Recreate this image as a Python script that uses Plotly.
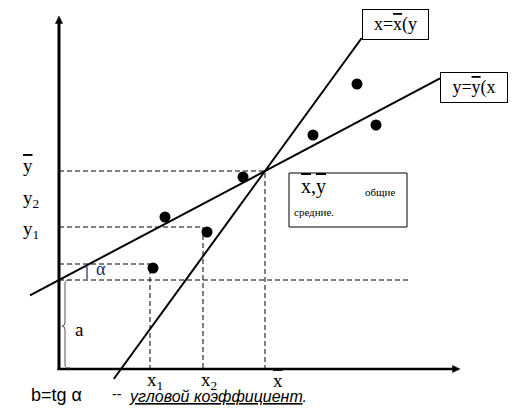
import plotly.graph_objects as go

# ---------------- data (chart units) ----------------
pts_x = [9.4, 10.6, 14.8, 18.4, 25.4, 29.8, 31.7]
pts_y = [10.1, 15.2, 13.7, 19.2, 23.4, 28.5, 24.4]

x_mean = 20.6          # x̄
y_mean = 19.8          # ȳ
a_intercept = 8.9      # a
slope_x_on_y = 1.375   # dy/dx of line x = x̄(y)

x1_val = 9.1
x2_val = 14.4
y1_val = 14.2
y2_val = 16.9
alpha_level = 10.5
a_line_end = 35.0

line_yx_x = [-2.9, 38.1]    # extent of y = ȳ(x)
line_xy_y = [-1.0, 33.1]    # extent of x = x̄(y)

x_axis_end = 40.1
y_axis_end = 35.3

tick_labels_x = ["x<sub>1</sub>", "x<sub>2</sub>"]
tick_labels_y = ["y<sub>1</sub>", "y<sub>2</sub>"]

# ---------------- helpers ----------------
W, H = 515, 415
OX, OY, S = 59, 369, 10.0
XR = [(0 - OX) / S, (W - OX) / S]
YR = [(OY - H) / S, (OY - 0) / S]


def P(px, py):
    return (px - OX) / S, (OY - py) / S


b_slope = (y_mean - a_intercept) / x_mean
OVER = '<span style="text-decoration:overline">{}</span>'

fig = go.Figure()

dash_style = dict(color="black", width=1, dash="5px,3px")

# dashed guide lines
fig.add_trace(go.Scatter(x=[0, x_mean, x_mean], y=[y_mean, y_mean, 0],
                         mode="lines", line=dash_style, hoverinfo="skip"))
fig.add_trace(go.Scatter(x=[0, x2_val, x2_val], y=[y1_val, y1_val, 0],
                         mode="lines", line=dash_style, hoverinfo="skip"))
fig.add_trace(go.Scatter(x=[0, x1_val, x1_val], y=[alpha_level, alpha_level, 0],
                         mode="lines", line=dash_style, hoverinfo="skip"))
fig.add_trace(go.Scatter(x=[0, a_line_end], y=[a_intercept, a_intercept],
                         mode="lines", line=dash_style, hoverinfo="skip"))

# regression line y = ȳ(x)
fig.add_trace(go.Scatter(x=line_yx_x,
                         y=[a_intercept + b_slope * v for v in line_yx_x],
                         mode="lines", line=dict(color="black", width=2),
                         hoverinfo="skip"))
# regression line x = x̄(y)
fig.add_trace(go.Scatter(x=[x_mean + (v - y_mean) / slope_x_on_y for v in line_xy_y],
                         y=line_xy_y,
                         mode="lines", line=dict(color="black", width=2),
                         hoverinfo="skip"))

# points
fig.add_trace(go.Scatter(x=pts_x, y=pts_y, mode="markers",
                         marker=dict(color="black", size=11), hoverinfo="skip"))

shapes = []
# axes
shapes.append(dict(type="line", xref="x", yref="y", x0=0, y0=-0.1, x1=0, y1=y_axis_end - 0.5,
                   line=dict(color="black", width=3)))
shapes.append(dict(type="line", xref="x", yref="y", x0=-0.15, y0=0, x1=x_axis_end - 0.5, y1=0,
                   line=dict(color="black", width=2.5)))
shapes.append(dict(type="path", xref="x", yref="y",
                   path=f"M {0} {y_axis_end} L {-0.36} {y_axis_end - 0.75} L {0.36} {y_axis_end - 0.75} Z",
                   fillcolor="black", line=dict(color="black", width=0.5)))
shapes.append(dict(type="path", xref="x", yref="y",
                   path=f"M {x_axis_end} {0} L {x_axis_end - 0.75} {0.36} L {x_axis_end - 0.75} {-0.36} Z",
                   fillcolor="black", line=dict(color="black", width=0.5)))

# brace for "a"
path_pts = [P(70, 280), P(65, 283), P(65, 322), P(62, 326), P(65, 330), P(65, 365), P(70, 368)]
bp = f"M {path_pts[0][0]} {path_pts[0][1]} Q {P(65,280)[0]} {P(65,280)[1]} {path_pts[1][0]} {path_pts[1][1]} " \
     f"L {path_pts[2][0]} {path_pts[2][1]} Q {P(65,326)[0]} {P(65,326)[1]} {path_pts[3][0]} {path_pts[3][1]} " \
     f"Q {P(65,326)[0]} {P(65,326)[1]} {path_pts[4][0]} {path_pts[4][1]} " \
     f"L {path_pts[5][0]} {path_pts[5][1]} Q {P(65,368)[0]} {P(65,368)[1]} {path_pts[6][0]} {path_pts[6][1]}"
shapes.append(dict(type="path", xref="x", yref="y", path=bp,
                   line=dict(color="#555555", width=1)))

# angle mark
am = [P(83, 267), P(87, 267), P(87, 279)]
shapes.append(dict(type="path", xref="x", yref="y",
                   path=f"M {am[0][0]} {am[0][1]} L {am[1][0]} {am[1][1]} L {am[2][0]} {am[2][1]}",
                   line=dict(color="#1a2a6a", width=1.2)))

# box for means
b0 = P(289, 173)
b1 = P(407, 227)
shapes.append(dict(type="rect", xref="x", yref="y", x0=b0[0], y0=b1[1], x1=b1[0], y1=b0[1],
                   line=dict(color="black", width=1), fillcolor="rgba(0,0,0,0)"))

ann = []
SERIF = "Liberation Serif"
SANS = "Liberation Sans"


def T(text, px, py, size=17, family=SERIF, xanchor="center", color="black", **kw):
    x, y = P(px, py)
    d = dict(text=text, x=x, y=y, xref="x", yref="y", showarrow=False,
             xanchor=xanchor, yanchor="middle",
             font=dict(family=family, size=size, color=color))
    d.update(kw)
    ann.append(d)


# y-axis labels
T(OVER.format("y"), 28, 165, size=19)
T(tick_labels_y[1], 31, 199, size=19)
T(tick_labels_y[0], 31, 230, size=19)
# x-axis labels
T(tick_labels_x[0], 155, 381, size=19)
T(tick_labels_x[1], 209, 381, size=19)
T(OVER.format("x"), 278, 380, size=19)
# a and alpha
T("a", 79, 329, size=19)
T("α", 101, 269, size=18, color="#1a2a6a")

# line label boxes
T("x=" + OVER.format("x") + "(y", 395.5, 24, size=18,
  bordercolor="black", borderwidth=1, borderpad=3, bgcolor="white", width=59, height=23)
T("y=" + OVER.format("y") + "(x", 474, 87, size=18,
  bordercolor="black", borderwidth=1, borderpad=3, bgcolor="white", width=60, height=23)

# mean box texts
T(OVER.format("x") + "," + OVER.format("y"), 313, 186, size=20)
T("общие", 380, 192, size=11)
T("средние.", 314, 212, size=11)

# bottom note
T("b=tg α", 29, 395, size=18, family=SANS, xanchor="left")
T("--", 110, 394, size=14, family=SANS, xanchor="left")
T("<i><u>угловой коэффициент</u>.</i>", 127, 396, size=16, family=SANS, xanchor="left")

fig.update_layout(
    width=W, height=H,
    margin=dict(l=0, r=0, t=0, b=0),
    paper_bgcolor="white", plot_bgcolor="white",
    showlegend=False,
    xaxis=dict(range=XR, visible=False, fixedrange=True),
    yaxis=dict(range=YR, visible=False, fixedrange=True),
    shapes=shapes, annotations=ann,
)

fig.write_html("out.html", config={"displayModeBar": False},
               post_script="document.body.style.margin='0';document.body.style.overflow='hidden';")
